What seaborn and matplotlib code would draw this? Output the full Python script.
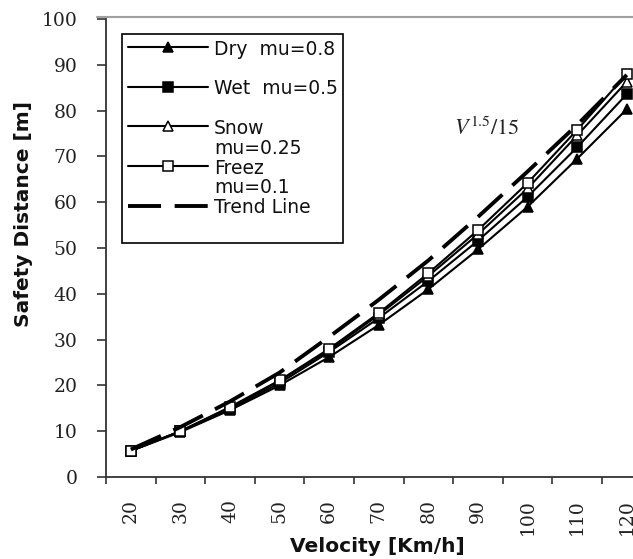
import numpy as np
import pandas as pd
import matplotlib
matplotlib.use("Agg")
import matplotlib.pyplot as plt
from matplotlib.lines import Line2D
import seaborn as sns

# ---- data ----
velocity = [20, 30, 40, 50, 60, 70, 80, 90, 100, 110, 120]
dry = [5.7, 9.8, 14.6, 20.0, 26.2, 33.2, 41.0, 49.7, 59.0, 69.5, 80.3]
wet = [5.7, 10.0, 14.8, 20.5, 27.3, 34.7, 42.8, 51.6, 61.2, 72.0, 83.6]
snow = [5.7, 10.0, 15.1, 21.0, 27.7, 35.4, 43.9, 53.0, 63.0, 74.6, 86.3]
freez = [5.7, 10.0, 15.3, 21.1, 28.0, 35.8, 44.5, 53.9, 64.2, 75.8, 88.0]
trend = [6.0, 10.9, 16.5, 22.8, 30.6, 38.7, 47.3, 56.8, 66.7, 76.9, 87.8]

labels = ["Dry  mu=0.8\n", "Wet  mu=0.5\n", "Snow\nmu=0.25", "Freez\nmu=0.1", "Trend Line\n"]

sns.set_style("white")
plt.rcParams["font.family"] = ["DejaVu Sans"]
plt.rcParams["mathtext.fontset"] = "stix"

fig = plt.figure(figsize=(6.33, 5.59), dpi=100)
W, H = 633, 559
ax = fig.add_axes([106 / W, (H - 477) / H, 545.6 / W, 458 / H])

pos = np.arange(len(velocity))
df = pd.DataFrame({"pos": pos, "dry": dry, "wet": wet, "snow": snow,
                   "freez": freez, "trend": trend})

common = dict(color="black", linewidth=1.5, markersize=7.5, markeredgewidth=1.1)
sns.lineplot(data=df, x="pos", y="dry", ax=ax, marker="^",
             markerfacecolor="black", markeredgecolor="black", **common)
sns.lineplot(data=df, x="pos", y="wet", ax=ax, marker="s",
             markerfacecolor="black", markeredgecolor="black", **common)
sns.lineplot(data=df, x="pos", y="snow", ax=ax, marker="^",
             markerfacecolor="white", markeredgecolor="black", **common)
sns.lineplot(data=df, x="pos", y="freez", ax=ax, marker="s",
             markerfacecolor="white", markeredgecolor="black", **common)
sns.lineplot(data=df, x="pos", y="trend", ax=ax, color="black",
             linewidth=2.8, linestyle=(0, (8.5, 3.5)))

ax.set_xlim(-0.5, len(velocity) - 0.5)
ax.set_ylim(0, 100)

# spines
for s in ["top", "right"]:
    ax.spines[s].set_visible(False)
for s in ["left", "bottom"]:
    ax.spines[s].set_color("#333333")
    ax.spines[s].set_linewidth(1.3)

# ticks
ax.set_xticks(pos)
ax.set_xticklabels([str(v) for v in velocity], rotation=90,
                   fontfamily="DejaVu Serif", fontsize=13.5, color="#222222")
ax.set_xticks(np.arange(-0.5, len(velocity), 1.0), minor=True)
ax.tick_params(axis="x", which="major", length=0, pad=16)
ax.tick_params(axis="x", which="minor", length=5, width=1.2, color="#333333",
               direction="out", bottom=True)
ax.set_yticks(range(0, 101, 10))
ax.set_yticklabels([str(v) for v in range(0, 101, 10)],
                   fontfamily="DejaVu Serif", fontsize=13.5, color="#222222")
ax.tick_params(axis="y", length=6.5, width=1.2, color="#333333",
               direction="out", pad=14, left=True)

ax.set_xlabel("Velocity [Km/h]", fontsize=14.5, fontweight="bold", color="#111111")
ax.set_ylabel("Safety Distance [m]", fontsize=14.5, fontweight="bold", color="#111111")
ax.xaxis.set_label_coords(0.497, (477 - 537) / 458)
ax.yaxis.set_label_coords((33 - 106) / 545.6, (477 - 214) / 458)

# annotation
ax.text(7.18, 76.2, r"$\mathit{V^{1.5}/15}$", fontsize=16, ha="center",
        va="center", color="#222222")

# legend
handles = ax.get_lines()[:5]
leg = ax.legend(handles, labels, loc="upper left",
                bbox_to_anchor=(16 / 545.6, (477 - 34) / 458),
                borderaxespad=0, frameon=True, fancybox=False,
                edgecolor="black", framealpha=1, fontsize=13.5,
                handlelength=4.3, handletextpad=0.3, labelspacing=0.05,
                handleheight=0.95, borderpad=0.3)
leg.get_frame().set_linewidth(1.2)
for t in leg.get_texts():
    t.set_color("#111111")
    t.set_linespacing(1.05)
try:
    for col in leg._legend_handle_box.get_children():
        for item in col.get_children():
            item.align = "top"
except Exception:
    pass

# light border line at top of plot area
fig.add_artist(Line2D([97 / W, 1.0], [1 - 17 / H, 1 - 17 / H],
                      color="#a0a0a0", linewidth=1.5))

fig.savefig("out.png", dpi=100)
